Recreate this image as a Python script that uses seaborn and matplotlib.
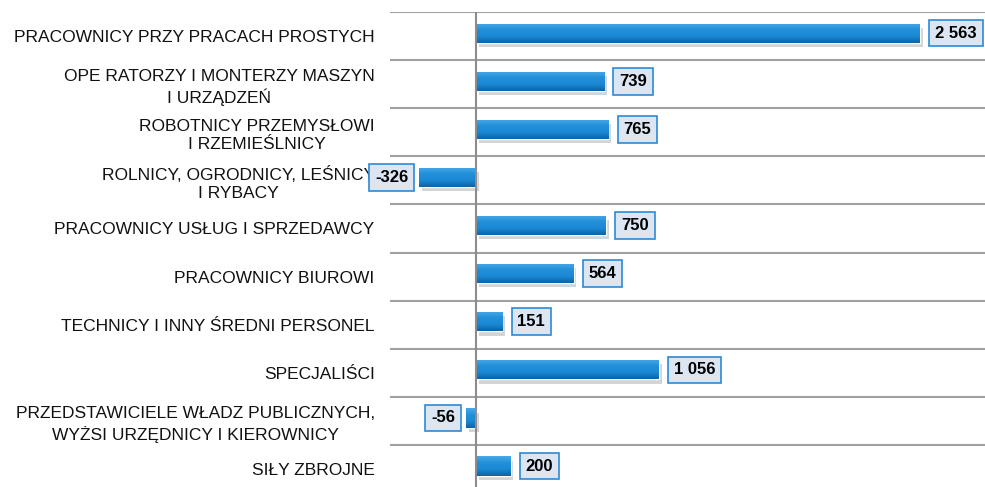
import matplotlib
matplotlib.use("Agg")
import matplotlib.pyplot as plt
import matplotlib.patheffects as pe
import seaborn as sns
import numpy as np
import pandas as pd

# dane
zawody = [
    "PRACOWNICY PRZY PRACACH PROSTYCH",
    "OPE RATORZY I MONTERZY MASZYN\nI URZĄDZEŃ",
    "ROBOTNICY PRZEMYSŁOWI\nI RZEMIEŚLNICY",
    "ROLNICY, OGRODNICY, LEŚNICY\nI RYBACY",
    "PRACOWNICY USŁUG I SPRZEDAWCY",
    "PRACOWNICY BIUROWI",
    "TECHNICY I INNY ŚREDNI PERSONEL",
    "SPECJALIŚCI",
    "PRZEDSTAWICIELE WŁADZ PUBLICZNYCH,\nWYŻSI URZĘDNICY I KIEROWNICY",
    "SIŁY ZBROJNE",
]
zmiana = [2563, 739, 765, -326, 750, 564, 151, 1056, -56, 200]

df = pd.DataFrame({"zawod": zawody, "zmiana": zmiana})

sns.set_style("white")
plt.rcParams["font.family"] = ["Liberation Sans", "DejaVu Sans"]

fig = plt.figure(figsize=(9.85, 4.87), dpi=100)
ax = fig.add_axes([390 / 985, 0, 595 / 985, 475 / 487])

sns.barplot(data=df, y="zawod", x="zmiana", orient="h", color="#1a8ad6",
            width=0.4, ax=ax, saturation=1)

# gradient na słupkach + cień
gradient = np.linspace(0, 1, 64).reshape(-1, 1)
cmap = matplotlib.colors.LinearSegmentedColormap.from_list(
    "bar", ["#4aa9e8", "#2290da", "#1a88d2", "#0d64a6"])
for p in ax.patches:
    p.set_y(p.get_y() - 0.06)
    p.set_path_effects([pe.SimplePatchShadow(offset=(2, -3), alpha=0.25,
                                             shadow_rgbFace="#555555"),
                        pe.Normal()])
    x0, y0 = p.get_x(), p.get_y()
    w, h = p.get_width(), p.get_height()
    im = ax.imshow(gradient, cmap=cmap, aspect="auto",
                   extent=[x0, x0 + w, y0 + h, y0], zorder=3)
    im.set_clip_path(p)

ax.set_xlim(-496, 2939)
ax.set_ylim(9.375, -0.5)

# linie siatki
for i in range(len(zawody)):
    ax.axhline(i - 0.5, color="#a0a0a0", lw=1.5, zorder=1)
ax.axvline(0, color="#8c8c8c", lw=1.5, zorder=4)

# etykiety wartości
for i, v in enumerate(zmiana):
    txt = f"{v:,}".replace(",", " ")
    if v >= 0:
        xy_off, ha = (11, 0), "left"
    else:
        xy_off, ha = (-8, 0), "right"
    ax.annotate(txt, xy=(v, i - 0.06), xytext=xy_off, textcoords="offset points",
                ha=ha, va="center", fontsize=12, fontweight="bold", color="black",
                zorder=6,
                bbox=dict(boxstyle="square,pad=0.35", fc="#dce6f2",
                          ec="#2c8ad6", lw=1.2))

ax.set_xlabel("")
ax.set_ylabel("")
ax.set_xticks([])
ax.tick_params(axis="y", length=0, pad=11)
for lab in ax.get_yticklabels():
    lab.set_fontsize(12.5)
    lab.set_multialignment("center")
    lab.set_linespacing(1.3)
    lab.set_color("#111111")
for s in ax.spines.values():
    s.set_visible(False)

fig.savefig("out.png", dpi=100)
